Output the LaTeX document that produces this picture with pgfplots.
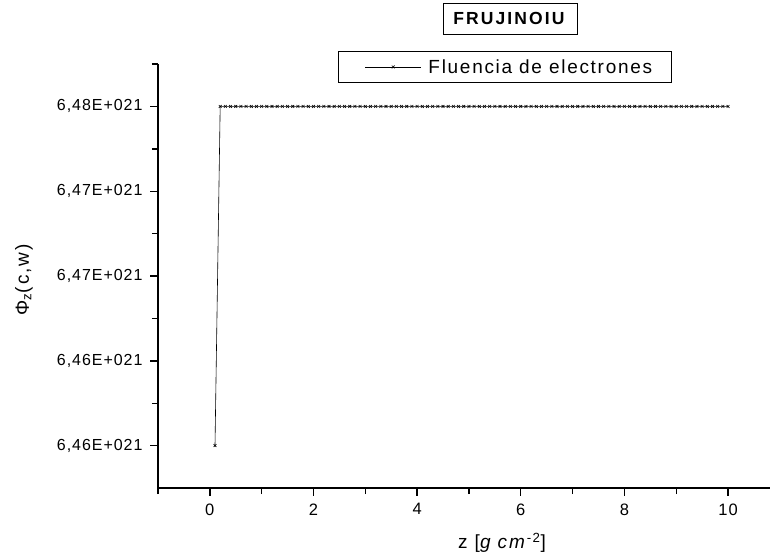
\documentclass[border=0pt]{standalone}
\usepackage{pgfplots}
\pgfplotsset{compat=1.18}
\usepackage{fontspec}
\setmainfont{Liberation Sans}
\newfontfamily\tickfont[LetterSpace=6]{Liberation Sans}
\newfontfamily\legfont[LetterSpace=9]{Liberation Sans}
\newfontfamily\labfont[LetterSpace=10]{Liberation Sans}
\newfontfamily\titlefont[LetterSpace=12]{Liberation Sans}

\begin{document}
\begin{tikzpicture}
\useasboundingbox (-158pt,-70pt) rectangle (615pt,488pt);
\begin{axis}[
  at={(0pt,0pt)}, anchor=south west,
  scale only axis, width=612pt, height=424pt,
  xmin=-1, xmax=10.81, ymin=6.4575, ymax=6.4825,
  axis x line=bottom, axis y line=left,
  axis line style={-, line width=1.4pt},
  tick align=outside,
  major tick length=8pt, minor tick length=6pt,
  every tick/.style={black, line width=1.4pt},
  xtick={0,2,4,6,8,10},
  minor xtick={-1,1,3,5,7,9},
  ytick={6.46,6.465,6.47,6.475,6.48},
  minor ytick={6.4625,6.4675,6.4725,6.4775,6.4825},
  yticklabels={6{,}46E+021,6{,}46E+021,6{,}47E+021,6{,}47E+021,6{,}48E+021},
  /pgf/number format/assume math mode=true,
  xticklabel style={font=\tickfont\fontsize{16.5pt}{18pt}\selectfont, yshift=-4pt},
  yticklabel style={font=\tickfont\fontsize{16pt}{18pt}\selectfont, xshift=-4pt},
  xlabel={z [\textit{g cm}\textsuperscript{-2}]},
  xlabel style={at={(0.562,-0.1297)}, anchor=center, font=\labfont\fontsize{19pt}{21pt}\selectfont},
  ylabel={Φ\textsubscript{z}(c,w)},
  ylabel style={at={(-0.219,0.491)}, anchor=center, font=\labfont\fontsize{19pt}{21pt}\selectfont},
  title={\textbf{FRUJINOIU}},
  title style={at={(0.575,1.093)}, anchor=center, draw, line width=0.8pt,
    font=\titlefont\fontsize{17.5pt}{19pt}\selectfont,
    minimum width=134pt, minimum height=31pt, inner sep=0pt},
  legend style={at={(0.567,0.993)}, anchor=center, draw=black, line width=0.8pt,
    font=\legfont\fontsize{19pt}{21pt}\selectfont,
    inner xsep=0pt, inner ysep=5.5pt},
  legend image code/.code={
    \path (-26pt,0pt);
    \draw[mark repeat=2, mark phase=2] plot coordinates {(0pt,0pt) (28pt,0pt) (56pt,0pt)};},
]
\addplot[black, line width=0.6pt, mark=x, mark size=2pt, mark options={line width=0.6pt}]
coordinates {
(0.1,6.46) (0.2,6.48) (0.3,6.48) (0.4,6.48) (0.5,6.48) (0.6,6.48) (0.7,6.48) (0.8,6.48) (0.9,6.48) (1.0,6.48)
(1.1,6.48) (1.2,6.48) (1.3,6.48) (1.4,6.48) (1.5,6.48) (1.6,6.48) (1.7,6.48) (1.8,6.48) (1.9,6.48) (2.0,6.48)
(2.1,6.48) (2.2,6.48) (2.3,6.48) (2.4,6.48) (2.5,6.48) (2.6,6.48) (2.7,6.48) (2.8,6.48) (2.9,6.48) (3.0,6.48)
(3.1,6.48) (3.2,6.48) (3.3,6.48) (3.4,6.48) (3.5,6.48) (3.6,6.48) (3.7,6.48) (3.8,6.48) (3.9,6.48) (4.0,6.48)
(4.1,6.48) (4.2,6.48) (4.3,6.48) (4.4,6.48) (4.5,6.48) (4.6,6.48) (4.7,6.48) (4.8,6.48) (4.9,6.48) (5.0,6.48)
(5.1,6.48) (5.2,6.48) (5.3,6.48) (5.4,6.48) (5.5,6.48) (5.6,6.48) (5.7,6.48) (5.8,6.48) (5.9,6.48) (6.0,6.48)
(6.1,6.48) (6.2,6.48) (6.3,6.48) (6.4,6.48) (6.5,6.48) (6.6,6.48) (6.7,6.48) (6.8,6.48) (6.9,6.48) (7.0,6.48)
(7.1,6.48) (7.2,6.48) (7.3,6.48) (7.4,6.48) (7.5,6.48) (7.6,6.48) (7.7,6.48) (7.8,6.48) (7.9,6.48) (8.0,6.48)
(8.1,6.48) (8.2,6.48) (8.3,6.48) (8.4,6.48) (8.5,6.48) (8.6,6.48) (8.7,6.48) (8.8,6.48) (8.9,6.48) (9.0,6.48)
(9.1,6.48) (9.2,6.48) (9.3,6.48) (9.4,6.48) (9.5,6.48) (9.6,6.48) (9.7,6.48) (9.8,6.48) (9.9,6.48) (10.0,6.48)
};
\legend{\hspace*{5pt}Fluencia de electrones\hspace*{17pt}}
\end{axis}
\end{tikzpicture}
\end{document}
